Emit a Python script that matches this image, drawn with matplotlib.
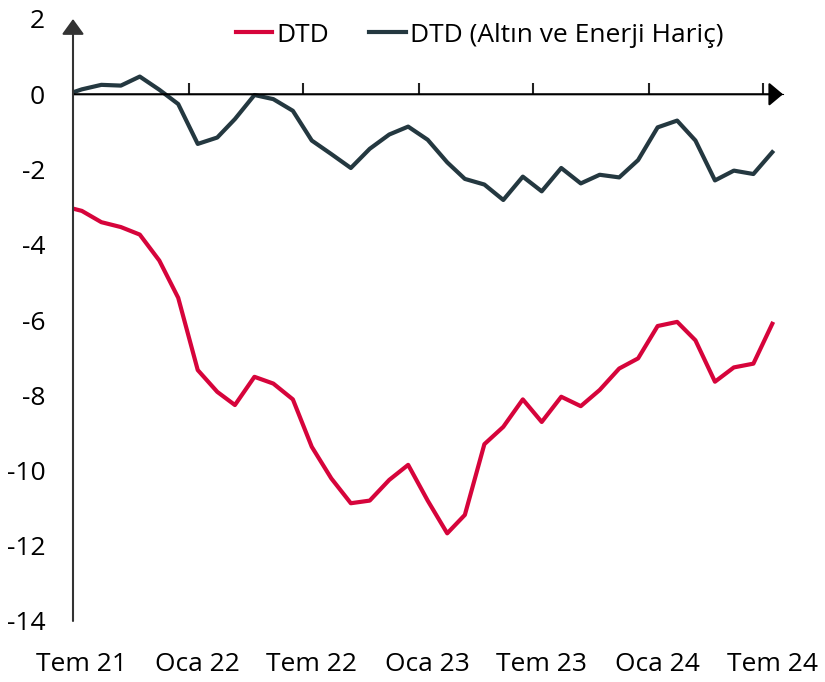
import matplotlib
matplotlib.use("Agg")
import matplotlib.pyplot as plt
import pandas as pd

plt.rcParams['font.family'] = ['Open Sans', 'DejaVu Sans']

# Monthly observations (mid-month), Jun 2021 - Jul 2024
dates = pd.date_range('2021-06-01', periods=38, freq='MS') + pd.Timedelta(days=14)

dtd = [-2.97, -3.10, -3.40, -3.53, -3.73, -4.42, -5.41,
       -7.33, -7.91, -8.26, -7.51, -7.69, -8.11, -9.37, -10.21, -10.87, -10.80, -10.25, -9.85,
       -10.80, -11.67, -11.18, -9.30, -8.84, -8.11, -8.71, -8.04, -8.29, -7.86, -7.29, -7.02,
       -6.16, -6.05, -6.54, -7.64, -7.26, -7.16, -6.10]

dtd_core = [-0.04, 0.13, 0.25, 0.23, 0.47, 0.12, -0.26,
            -1.32, -1.15, -0.66, -0.02, -0.13, -0.44, -1.23, -1.59, -1.96, -1.45, -1.07, -0.86,
            -1.21, -1.81, -2.25, -2.40, -2.81, -2.19, -2.58, -1.96, -2.37, -2.14, -2.21, -1.75,
            -0.88, -0.70, -1.23, -2.29, -2.03, -2.12, -1.54]

series_names = ['DTD', 'DTD (Altın ve Enerji Hariç)']
series_colors = ['#D6043B', '#243840']

tick_dates = pd.to_datetime(['2021-07-01', '2022-01-01', '2022-07-01', '2023-01-01',
                             '2023-07-01', '2024-01-01', '2024-07-01'])
label_dates = tick_dates + pd.Timedelta(days=14)
tick_labels = ['Tem 21', 'Oca 22', 'Tem 22', 'Oca 23', 'Tem 23', 'Oca 24', 'Tem 24']
y_ticks = [2, 0, -2, -4, -6, -8, -10, -12, -14]

FS = 19

fig = plt.figure(figsize=(8.25, 6.82), dpi=100)
ax = fig.add_axes([73/825, 1-621/682, (783-73)/825, (621-19)/682])

ax.plot(dates, dtd, color=series_colors[0], lw=3.0, label=series_names[0])
ax.plot(dates, dtd_core, color=series_colors[1], lw=3.0, label=series_names[1])

xmin = pd.Timestamp('2021-07-01')
xmax = pd.Timestamp('2024-08-01')
ax.set_xlim(xmin, xmax)
ax.set_ylim(-14, 2)

for s in ax.spines.values():
    s.set_visible(False)

# x labels at bottom
ax.set_xticks(label_dates)
ax.set_xticklabels(tick_labels, fontsize=FS)
ax.tick_params(axis='x', length=0, pad=22)

ax.set_yticks(y_ticks)
ax.set_yticklabels([str(v) for v in y_ticks], fontsize=FS)
ax.tick_params(axis='y', length=0, pad=20)

# zero axis with tick marks
sec = ax.secondary_xaxis(14/16)
sec.spines['bottom'].set_visible(False)
sec.set_xticks(tick_dates[1:])
sec.set_xticklabels([])
sec.tick_params(axis='x', direction='out', length=8, width=1.5, color='#222222')

ax.annotate('', xy=(1.0, 0), xytext=(0.0, 0), xycoords=('axes fraction', 'data'),
            textcoords=('axes fraction', 'data'),
            arrowprops=dict(arrowstyle='-|>,head_length=0.86,head_width=0.72', lw=1.5,
                            color='black', shrinkA=0, shrinkB=0, mutation_scale=10))
ax.annotate('', xy=(0, 1.0), xytext=(0, 0.0), xycoords='axes fraction',
            arrowprops=dict(arrowstyle='-|>,head_length=0.94,head_width=0.68', lw=1.5,
                            color='#333333', shrinkA=0, shrinkB=0, mutation_scale=10))

leg = fig.legend(loc='upper left', bbox_to_anchor=(225/825, 1-12/682), ncol=2, frameon=False,
                 fontsize=FS, handlelength=1.4, handletextpad=0.15, columnspacing=1.5,
                 borderaxespad=0)

fig.savefig('out.png', dpi=100)
